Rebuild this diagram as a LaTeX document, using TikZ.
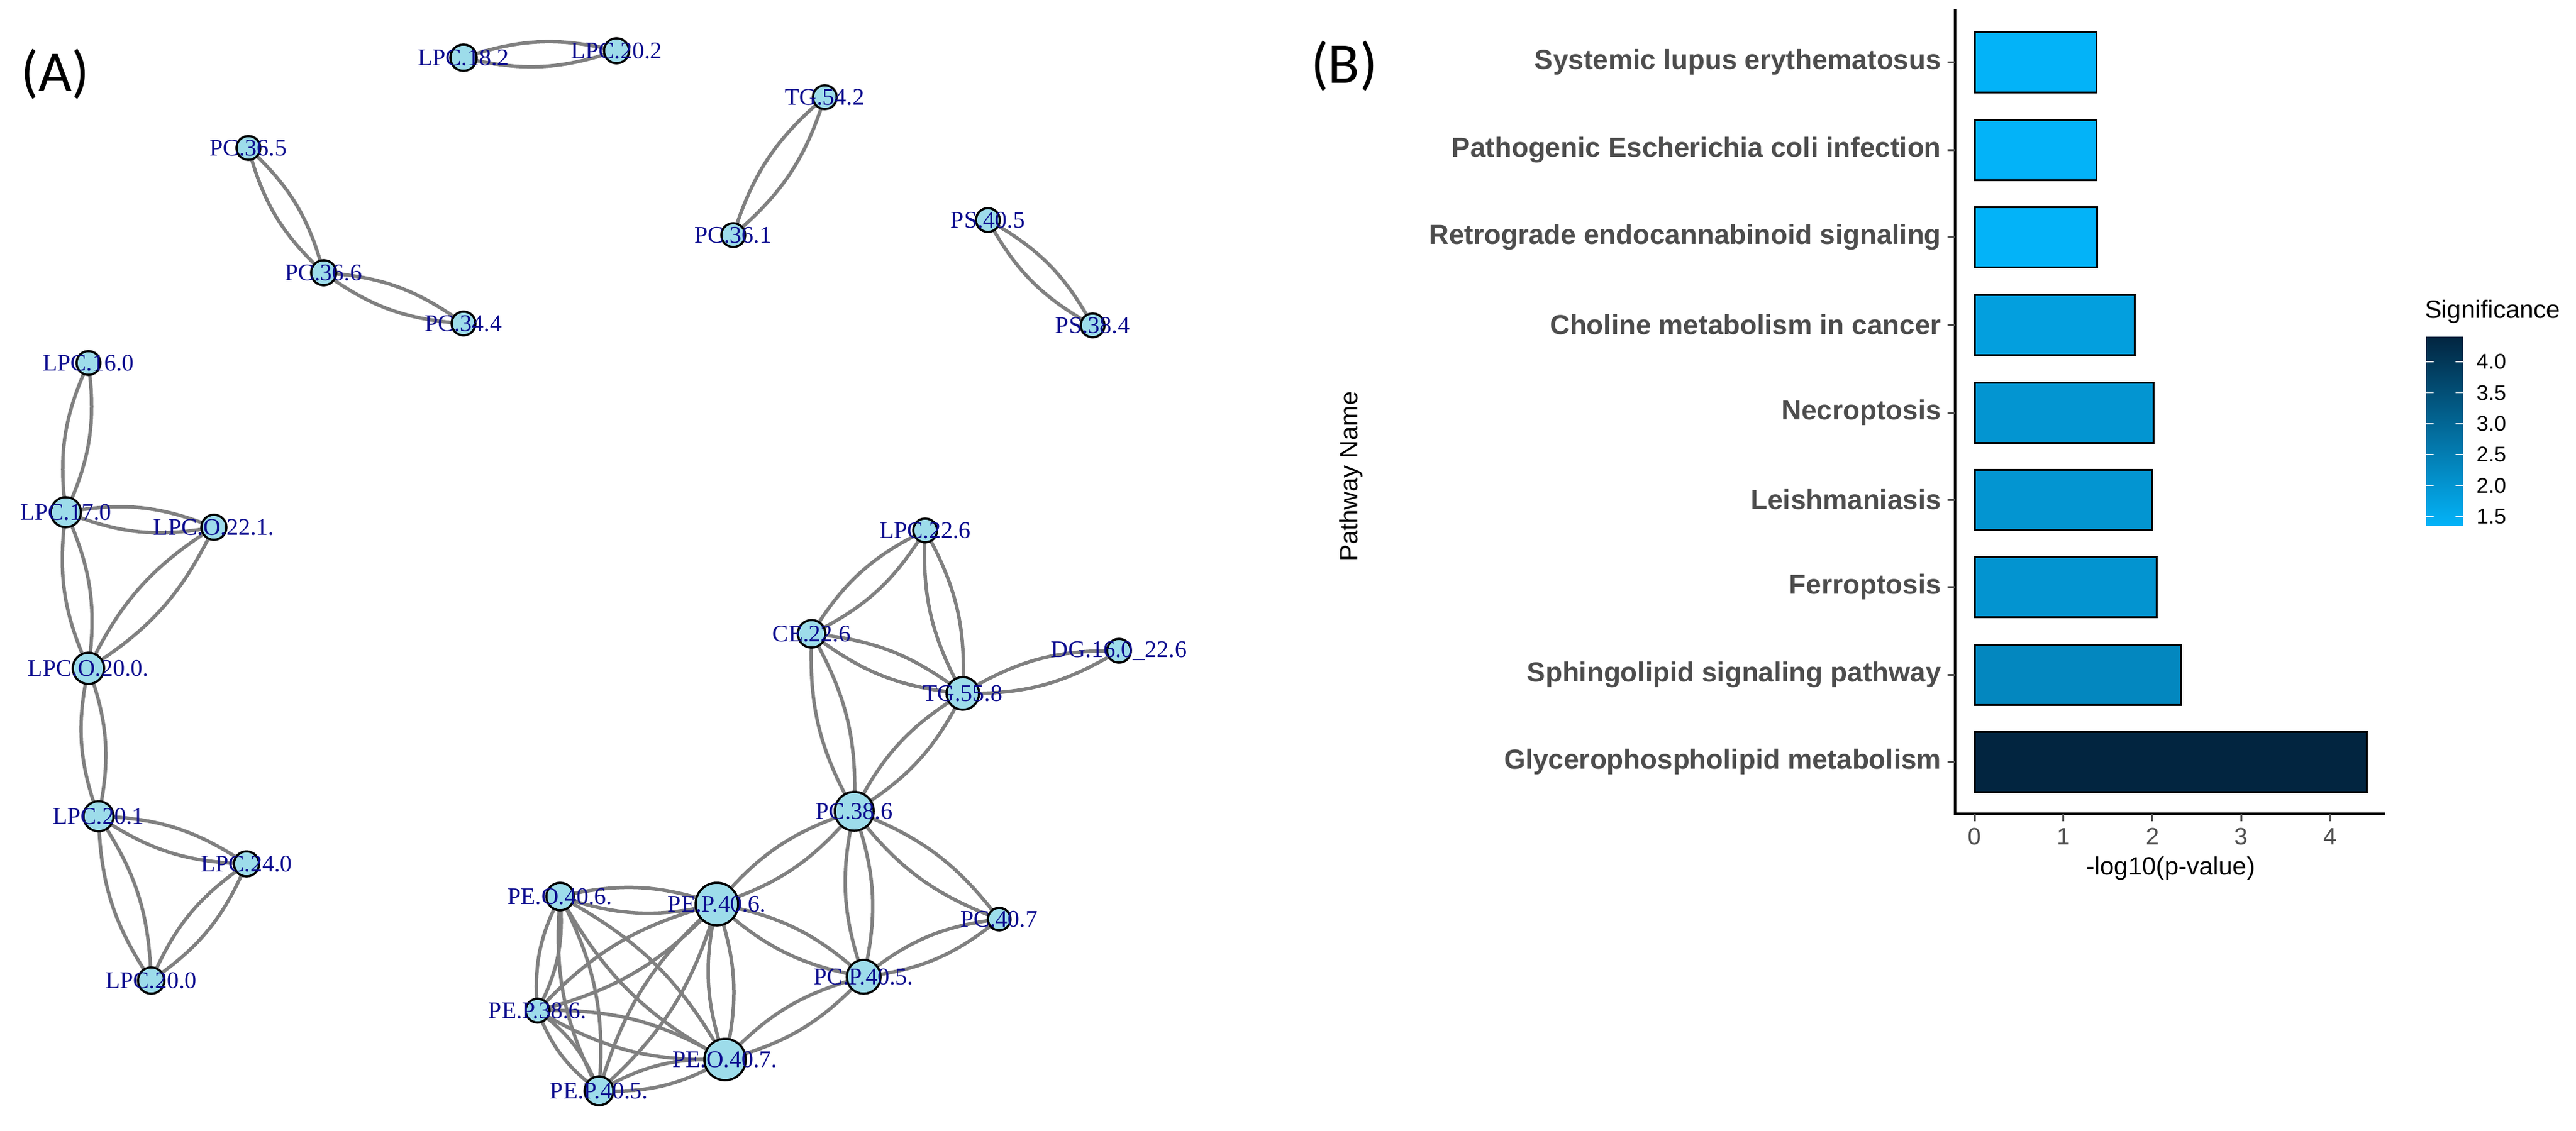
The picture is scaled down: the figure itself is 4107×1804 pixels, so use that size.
\documentclass[tikz,border=0pt]{standalone}
\usepackage{fontspec}
\setmainfont{Liberation Serif}
\setsansfont{Liberation Sans}
\newfontfamily\carl{Carlito}
\begin{document}
\definecolor{edgec}{HTML}{808080}
\definecolor{nodec}{HTML}{9DDCEA}
\definecolor{labc}{HTML}{0B0B8E}
\definecolor{dk}{HTML}{022540}
\definecolor{lt}{HTML}{03B3F8}
\definecolor{txg}{HTML}{4D4D4D}
\begin{tikzpicture}[x=1pt,y=-1pt,
  edge/.style={draw=edgec,line width=5.5},
  nd/.style={circle,fill=nodec,draw=black,line width=3.5,inner sep=0},
  lab/.style={text=labc,font=\fontsize{38}{40}\selectfont,inner sep=0},
  cat/.style={anchor=east,text=txg,font=\sffamily\bfseries\fontsize{44}{48}\selectfont,inner sep=0},
  tk/.style={text=txg,font=\sffamily\fontsize{38}{40}\selectfont,inner sep=0},
  bar/.style={draw=black,line width=3}]
\useasboundingbox (0,0) rectangle (4107,1804);
\newcommand\ed[2]{\draw[edge] (#1) to[bend left=16] (#2); \draw[edge] (#1) to[bend right=16] (#2);}
\newcommand\nn[4]{\node[nd,minimum size=#3] (n#1) at (#1) {}; \node[lab] at (n#1) {#4};}
% coordinates
\coordinate (l182) at (739,92); \coordinate (l202) at (983,81);
\coordinate (p365) at (396,236); \coordinate (p366) at (516,435); \coordinate (p344) at (739,516);
\coordinate (t542) at (1315,155); \coordinate (p361) at (1169,375);
\coordinate (s405) at (1575,351); \coordinate (s384) at (1742,519);
\coordinate (l160) at (141,579); \coordinate (l170) at (105,817); \coordinate (lo221) at (341,841);
\coordinate (lo200) at (141,1066); \coordinate (l201) at (157,1302); \coordinate (l240) at (393,1378); \coordinate (l200) at (241,1564);
\coordinate (l226) at (1475,846); \coordinate (ce) at (1294,1011); \coordinate (tg) at (1535,1106); \coordinate (dg) at (1784,1038);
\coordinate (pc386) at (1362,1294); \coordinate (peo406) at (893,1430); \coordinate (pep406) at (1143,1442);
\coordinate (pc407) at (1593,1466); \coordinate (pcp405) at (1377,1558); \coordinate (pep386) at (857,1612);
\coordinate (peo407) at (1156,1690); \coordinate (pep405) at (955,1740);
% edges
\ed{l182}{l202} \ed{p365}{p366} \ed{p366}{p344} \ed{t542}{p361} \ed{s405}{s384}
\ed{l160}{l170} \ed{l170}{lo221} \ed{l170}{lo200} \ed{lo221}{lo200} \ed{lo200}{l201}
\ed{l201}{l240} \ed{l201}{l200} \ed{l240}{l200}
\ed{l226}{ce} \ed{l226}{tg} \ed{ce}{tg} \ed{tg}{dg} \ed{ce}{pc386} \ed{tg}{pc386}
\ed{pc386}{pep406} \ed{pc386}{pcp405} \ed{pc386}{pc407} \ed{pep406}{pcp405} \ed{pc407}{pcp405} \ed{pcp405}{peo407}
\ed{peo406}{pep406} \ed{peo406}{pep386} \ed{peo406}{peo407} \ed{peo406}{pep405}
\ed{pep406}{pep386} \ed{pep406}{peo407} \ed{pep406}{pep405}
\ed{pep386}{peo407} \ed{pep386}{pep405} \ed{peo407}{pep405}
% nodes
\nn{l182}{}{42}{LPC.18.2} \nn{l202}{}{40}{LPC.20.2}
\nn{p365}{}{38}{PC.36.5} \nn{p366}{}{40}{PC.36.6} \nn{p344}{}{38}{PC.34.4}
\nn{t542}{}{38}{TG.54.2} \nn{p361}{}{38}{PC.36.1}
\nn{s405}{}{38}{PS.40.5} \nn{s384}{}{38}{PS.38.4}
\nn{l160}{}{38}{LPC.16.0} \nn{l170}{}{48}{LPC.17.0} \nn{lo221}{}{40}{LPC.O.22.1.}
\nn{lo200}{}{50}{LPC.O.20.0.} \nn{l201}{}{48}{LPC.20.1} \nn{l240}{}{40}{LPC.24.0} \nn{l200}{}{42}{LPC.20.0}
\nn{l226}{}{38}{LPC.22.6} \nn{ce}{}{44}{CE.22.6} \nn{tg}{}{52}{TG.55.8} \nn{dg}{}{38}{DG.16.0\_22.6}
\nn{pc386}{}{62}{PC.38.6} \nn{peo406}{}{44}{PE.O.40.6.} \nn{pep406}{}{68}{PE.P.40.6.}
\nn{pc407}{}{36}{PC.40.7} \nn{pcp405}{}{54}{PC.P.40.5.} \nn{pep386}{}{38}{PE.P.38.6.}
\nn{peo407}{}{66}{PE.O.40.7.} \nn{pep405}{}{46}{PE.P.40.5.}
\node[font=\carl\fontsize{92}{100}\selectfont,inner sep=0] (A) at (88,118) {(A)};
\node[font=\carl\fontsize{92}{100}\selectfont,inner sep=0] (B) at (2143,105) {(B)};
% bar chart
\draw[line width=3.5] (3117,15) -- (3117,1298) -- (3803,1298);
\foreach \v/\y/\c/\t in {1.37/99/0/Systemic lupus erythematosus,1.37/239/0/Pathogenic Escherichia coli infection,1.38/378/0/Retrograde endocannabinoid signaling,1.80/518/14/Choline metabolism in cancer,2.01/658/21/Necroptosis,2.00/797/21/Leishmaniasis,2.05/936/22/Ferroptosis,2.32/1076/31/Sphingolipid signaling pathway,4.41/1215/100/Glycerophospholipid metabolism}{
  \draw[bar,fill=dk!\c!lt] (3148,\y-48) rectangle ({3148+141.8*\v},\y+48);
  \draw[line width=3,txg] (3105,\y) -- (3117,\y);
  \node[cat] at (3095,\y) {\t};
}
\foreach \i in {0,...,4}{
  \draw[line width=3,txg] ({3148+141.8*\i},1298) -- ({3148+141.8*\i},1310);
  \node[tk] at ({3148+141.8*\i},1334) {\i};
}
\node[font=\sffamily\fontsize{40}{44}\selectfont,inner sep=0] (xt) at (3461,1385) {-log10(p-value)};
\node[font=\sffamily\fontsize{40}{44}\selectfont,inner sep=0,rotate=90] (yt) at (2154,760) {Pathway Name};
\node[font=\sffamily\fontsize{40}{44}\selectfont,inner sep=0,anchor=west] (lt) at (3866,497) {Significance};
\shade[top color=dk,bottom color=lt] (3868,537) rectangle (3927,838);
\foreach \v in {1.5,2.0,2.5,3.0,3.5,4.0}{
  \pgfmathsetmacro\yy{824-(\v-1.5)*98.8}
  \draw[white,line width=1.5] (3868,\yy) -- (3880,\yy) (3915,\yy) -- (3927,\yy);
  \node[font=\sffamily\fontsize{34}{36}\selectfont,inner sep=0] at (3972,\yy) {\v};
}
\end{tikzpicture}
\end{document}
